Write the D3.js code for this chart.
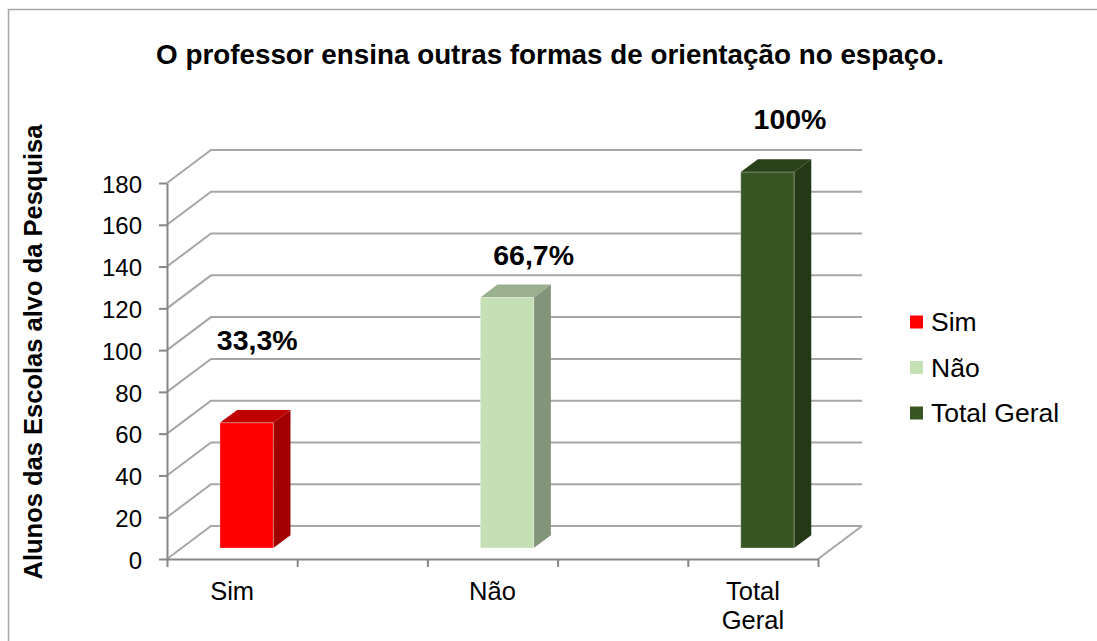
<!DOCTYPE html>
<html>
<head>
<meta charset="utf-8">
<script src="https://cdn.jsdelivr.net/npm/d3@7"></script>
<style>
  body { margin: 0; background: #fff; }
  text { font-family: "Liberation Sans", Arial, sans-serif; fill: #000; }
</style>
</head>
<body>
<div id="bargraph"></div>
<script>
const categories = ["Sim", "Não", "Total Geral"];
const values = [60, 120, 180];
const percentLabels = ["33,3%", "66,7%", "100%"];
const yTicks = [0, 20, 40, 60, 80, 100, 120, 140, 160, 180];
const colours = [
  {front: "#ff0000", top: "#c00000", side: "#a00000"},
  {front: "#c4e0b4", top: "#9bb08d", side: "#829479"},
  {front: "#375623", top: "#2a4219", side: "#243916"}
];

const drawBarGraph = () => {

  /*******************************/
  /*    Declare the constants    */
  /*******************************/
  const width = 1097;
  const height = 641;
  const left = 167, right = 818, bottom = 559, top = 183;
  const depth = {x: 44, y: -33};     // offset of the back wall
  const barZ = [0.33, 0.72];         // bar front / back, fraction of depth
  const labelNudge = [[2, -66], [18, -26], [14, -37]];  // hand-placed labels in the original
  const gridColour = "#a6a6a6";

  const svg = d3.select("#bargraph")
    .append("svg")
      .attr("width", width)
      .attr("height", height);

  svg.append("rect")
    .attr("x", 8.5).attr("y", 9.5)
    .attr("width", width + 10).attr("height", height + 10)
    .attr("fill", "none")
    .attr("stroke", "#a6a6a6")
    .attr("stroke-width", 1.5);

  // 5 slots along x, categories on every other one
  const xScale = d3.scaleBand()
    .domain(d3.range(categories.length * 2 - 1))
    .range([left, right]);

  const yScale = d3.scaleLinear()
    .domain([0, 180])
    .range([bottom, top]);

  /*******************************/
  /*      Walls and gridlines    */
  /*******************************/
  svg.append("g")
    .selectAll("path")
    .data(yTicks)
    .join("path")
      .attr("d", d => `M${left},${yScale(d)} L${left + depth.x},${yScale(d) + depth.y} L${right + depth.x},${yScale(d) + depth.y}`)
      .attr("fill", "none")
      .attr("stroke", gridColour)
      .attr("stroke-width", 2);

  // floor right edge
  svg.append("path")
    .attr("d", `M${right},${bottom} L${right + depth.x},${bottom + depth.y}`)
    .attr("stroke", gridColour)
    .attr("stroke-width", 2);

  /*******************************/
  /*            Axes             */
  /*******************************/
  const yAxis = d3.axisLeft(yScale)
    .tickValues(yTicks)
    .tickSize(8)
    .tickPadding(17)
    .tickSizeOuter(0);

  const yAxisG = svg.append("g")
    .attr("transform", `translate(${left}, 0)`)
    .call(yAxis);
  yAxisG.selectAll("text")
    .attr("font-size", 24)
    .attr("font-family", "Liberation Sans, Arial, sans-serif")
    .attr("fill", "#000")
    .attr("dy", "0.38em");

  const xAxis = d3.axisBottom(d3.scaleLinear().domain([0, xScale.domain().length]).range([left, right]))
    .ticks(xScale.domain().length)
    .tickFormat("")
    .tickSize(8)
    .tickSizeOuter(0);

  svg.append("g")
    .attr("transform", `translate(0, ${bottom})`)
    .call(xAxis);

  svg.selectAll(".domain, .tick line")
    .attr("stroke", "#868686")
    .attr("stroke-width", 2);

  // category labels
  const xLabels = svg.append("g")
    .selectAll("text")
    .data(categories)
    .join("text")
      .attr("text-anchor", "middle")
      .attr("font-size", 25.5)
      .attr("transform", (d, i) => `translate(${xScale(i * 2) + xScale.bandwidth() / 2}, 600)`);
  xLabels.each(function(d) {
    const words = d.split(" ");
    d3.select(this).selectAll("tspan")
      .data(words)
      .join("tspan")
        .attr("x", 0)
        .attr("dy", (w, j) => j === 0 ? 0 : 29)
        .text(w => w);
  });

  /*******************************/
  /*            Bars             */
  /*******************************/
  const barW = xScale.bandwidth() * 0.41;
  const bars = categories.map((c, i) => {
    const x1 = xScale(i * 2) + (xScale.bandwidth() - barW) / 2;
    return {i, x1, x2: x1 + barW, y0: yScale(0), y1: yScale(values[i])};
  });
  const at = (x, y, z) => [x + z * depth.x, y + z * depth.y];
  const poly = pts => "M" + pts.map(p => p.join(",")).join("L") + "Z";

  const barG = svg.append("g")
    .selectAll("g")
    .data(bars)
    .join("g");

  barG.append("path")
    .attr("d", b => poly([at(b.x2, b.y1, barZ[0]), at(b.x2, b.y1, barZ[1]), at(b.x2, b.y0, barZ[1]), at(b.x2, b.y0, barZ[0])]))
    .attr("fill", b => colours[b.i].side);

  barG.append("path")
    .attr("d", b => poly([at(b.x1, b.y1, barZ[0]), at(b.x1, b.y1, barZ[1]), at(b.x2, b.y1, barZ[1]), at(b.x2, b.y1, barZ[0])]))
    .attr("fill", b => colours[b.i].top);

  barG.append("path")
    .attr("d", b => poly([at(b.x1, b.y1, barZ[0]), at(b.x2, b.y1, barZ[0]), at(b.x2, b.y0, barZ[0]), at(b.x1, b.y0, barZ[0])]))
    .attr("fill", b => colours[b.i].front)
    .attr("stroke", "rgba(255,255,255,0.35)")
    .attr("stroke-width", 1);

  // percentage labels above the bars
  const zMid = (barZ[0] + barZ[1]) / 2;
  svg.append("g")
    .selectAll("text")
    .data(bars)
    .join("text")
      .text(b => percentLabels[b.i])
      .attr("x", b => at((b.x1 + b.x2) / 2, b.y1, zMid)[0] + labelNudge[b.i][0])
      .attr("y", b => at((b.x1 + b.x2) / 2, b.y1, zMid)[1] + labelNudge[b.i][1])
      .attr("text-anchor", "middle")
      .attr("font-size", 28.5)
      .attr("font-weight", "bold");

  /*******************************/
  /*      Titles and legend      */
  /*******************************/
  svg.append("text")
    .text("O professor ensina outras formas de orientação no espaço.")
    .attr("x", 550)
    .attr("y", 64)
    .attr("text-anchor", "middle")
    .attr("font-size", 27.8)
    .attr("font-weight", "bold");

  svg.append("text")
    .text("Alunos das Escolas alvo da Pesquisa")
    .attr("transform", "translate(33, 352) rotate(-90)")
    .attr("text-anchor", "middle")
    .attr("dominant-baseline", "central")
    .attr("font-size", 25.5)
    .attr("font-weight", "bold");

  const legend = svg.append("g")
    .selectAll("g")
    .data(categories)
    .join("g")
      .attr("transform", (d, i) => `translate(910, ${322 + i * 45.5})`);

  legend.append("rect")
    .attr("x", 0).attr("y", -6.5)
    .attr("width", 13).attr("height", 13)
    .attr("fill", (d, i) => colours[i].front);

  legend.append("text")
    .text(d => d)
    .attr("x", 21)
    .attr("y", 9)
    .attr("font-size", 26.5);
};

drawBarGraph();
</script>
</body>
</html>
